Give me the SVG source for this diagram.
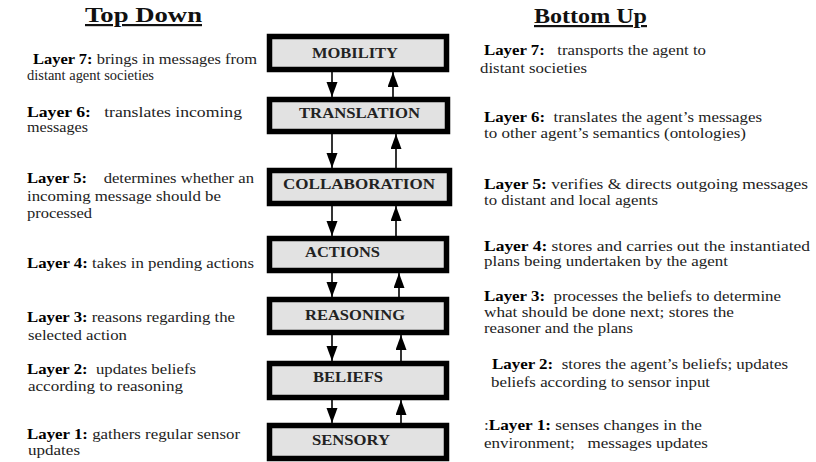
<svg xmlns="http://www.w3.org/2000/svg" width="816" height="462" viewBox="0 0 816 462" font-family="'Liberation Serif', 'Times New Roman', 'DejaVu Serif', serif">
<style>
.title { font-size: 22px; font-weight: bold; fill: #111; text-decoration: underline; }
.box { fill: #e2e2e2; stroke: #000; stroke-width: 5.5; }
.lbl { font-size: 14.5px; font-weight: bold; fill: #222; }
.desc { font-family: "Liberation Serif", "DejaVu Serif", serif; font-size: 14px; font-weight: normal; fill: #222; }
.desc .b { font-weight: bold; fill: #000; }
.conn { stroke: #000; stroke-width: 1.6; fill: none; marker-end: url(#ah); }
</style>
<defs>
<marker id="ah" markerUnits="userSpaceOnUse" markerWidth="16" markerHeight="12" refX="15" refY="5.5" orient="auto">
<path d="M0,0 L15,5.5 L0,11 Z" fill="#000"/>
</marker>
</defs>
<rect x="0" y="0" width="816" height="462" fill="#fff"/>

<g id="titles">
<text class="title" x="85" y="22" textLength="117" lengthAdjust="spacingAndGlyphs">Top Down</text>
<text class="title" x="534" y="23" textLength="113" lengthAdjust="spacingAndGlyphs">Bottom Up</text>
</g>

<g id="connectors">
<line class="conn" x1="332" y1="72" x2="332" y2="97"/>
<line class="conn" x1="332" y1="134" x2="332" y2="168"/>
<line class="conn" x1="332" y1="206" x2="332" y2="236"/>
<line class="conn" x1="332" y1="273" x2="332" y2="297"/>
<line class="conn" x1="332" y1="335" x2="332" y2="361"/>
<line class="conn" x1="332" y1="400" x2="332" y2="423"/>
<line class="conn" x1="393" y1="97" x2="393" y2="72"/>
<line class="conn" x1="396" y1="168" x2="396" y2="134"/>
<line class="conn" x1="396" y1="236" x2="396" y2="206"/>
<line class="conn" x1="399" y1="297" x2="399" y2="273"/>
<line class="conn" x1="401" y1="361" x2="401" y2="335"/>
<line class="conn" x1="401" y1="423" x2="401" y2="400"/>
</g>

<g id="mobility">
<rect class="box" x="269.5" y="36.5" width="177" height="33"/>
<text class="lbl" x="312" y="58" textLength="86" lengthAdjust="spacingAndGlyphs">MOBILITY</text>
</g>
<g id="translation">
<rect class="box" x="269.5" y="99.5" width="178" height="32"/>
<text class="lbl" x="299" y="118" textLength="121" lengthAdjust="spacingAndGlyphs">TRANSLATION</text>
</g>
<g id="collaboration">
<rect class="box" x="269.5" y="170.5" width="180" height="33"/>
<text class="lbl" x="283" y="189" textLength="152" lengthAdjust="spacingAndGlyphs">COLLABORATION</text>
</g>
<g id="actions">
<rect class="box" x="269.5" y="238.5" width="177" height="32"/>
<text class="lbl" x="305" y="257" textLength="75" lengthAdjust="spacingAndGlyphs">ACTIONS</text>
</g>
<g id="reasoning">
<rect class="box" x="269.5" y="299.5" width="177" height="33"/>
<text class="lbl" x="305" y="320" textLength="100" lengthAdjust="spacingAndGlyphs">REASONING</text>
</g>
<g id="beliefs">
<rect class="box" x="269.5" y="363.5" width="177" height="34"/>
<text class="lbl" x="313" y="382" textLength="70" lengthAdjust="spacingAndGlyphs">BELIEFS</text>
</g>
<g id="sensory">
<rect class="box" x="269.5" y="425.5" width="177" height="33"/>
<text class="lbl" x="312" y="445" textLength="78" lengthAdjust="spacingAndGlyphs">SENSORY</text>
</g>

<g id="top-down-text" class="desc">
<text x="33" y="64" textLength="224" lengthAdjust="spacingAndGlyphs"><tspan class="b">Layer 7:</tspan> brings in messages from</text>
<text x="27" y="80" textLength="127" lengthAdjust="spacingAndGlyphs">distant agent societies</text>
<text x="27" y="116.5" textLength="215" lengthAdjust="spacingAndGlyphs" xml:space="preserve"><tspan class="b">Layer 6:</tspan>   translates incoming</text>
<text x="27" y="132" textLength="61" lengthAdjust="spacingAndGlyphs">messages</text>
<text x="27" y="183" textLength="227" lengthAdjust="spacingAndGlyphs" xml:space="preserve"><tspan class="b">Layer 5:</tspan>    determines whether an</text>
<text x="27" y="200.5" textLength="194" lengthAdjust="spacingAndGlyphs">incoming message should be</text>
<text x="27" y="218" textLength="65" lengthAdjust="spacingAndGlyphs">processed</text>
<text x="27" y="268" textLength="227" lengthAdjust="spacingAndGlyphs"><tspan class="b">Layer 4:</tspan> takes in pending actions</text>
<text x="27" y="321.5" textLength="208" lengthAdjust="spacingAndGlyphs"><tspan class="b">Layer 3:</tspan> reasons regarding the</text>
<text x="28" y="340" textLength="99" lengthAdjust="spacingAndGlyphs">selected action</text>
<text x="27" y="373.5" textLength="169" lengthAdjust="spacingAndGlyphs" xml:space="preserve"><tspan class="b">Layer 2:</tspan>  updates beliefs</text>
<text x="28" y="391" textLength="155" lengthAdjust="spacingAndGlyphs">according to reasoning</text>
<text x="27" y="438.5" textLength="213" lengthAdjust="spacingAndGlyphs"><tspan class="b">Layer 1:</tspan> gathers regular sensor</text>
<text x="28" y="455" textLength="52" lengthAdjust="spacingAndGlyphs">updates</text>
</g>

<g id="bottom-up-text" class="desc">
<text x="484" y="55" textLength="222" lengthAdjust="spacingAndGlyphs" xml:space="preserve"><tspan class="b">Layer 7:</tspan>   transports the agent to</text>
<text x="480" y="72.5" textLength="107" lengthAdjust="spacingAndGlyphs">distant societies</text>
<text x="484" y="121.5" textLength="278" lengthAdjust="spacingAndGlyphs" xml:space="preserve"><tspan class="b">Layer 6:</tspan>  translates the agent’s messages</text>
<text x="484" y="137.5" textLength="262" lengthAdjust="spacingAndGlyphs">to other agent’s semantics (ontologies)</text>
<text x="484" y="189" textLength="324" lengthAdjust="spacingAndGlyphs"><tspan class="b">Layer 5:</tspan> verifies &amp; directs outgoing messages</text>
<text x="484" y="204.5" textLength="174" lengthAdjust="spacingAndGlyphs">to distant and local agents</text>
<text x="484" y="250.5" textLength="326" lengthAdjust="spacingAndGlyphs"><tspan class="b">Layer 4:</tspan> stores and carries out the instantiated</text>
<text x="484" y="266" textLength="244" lengthAdjust="spacingAndGlyphs">plans being undertaken by the agent</text>
<text x="484" y="300.5" textLength="297" lengthAdjust="spacingAndGlyphs" xml:space="preserve"><tspan class="b">Layer 3:</tspan>  processes the beliefs to determine</text>
<text x="484" y="316.5" textLength="250" lengthAdjust="spacingAndGlyphs">what should be done next; stores the</text>
<text x="484" y="333" textLength="149" lengthAdjust="spacingAndGlyphs">reasoner and the plans</text>
<text x="492" y="369" textLength="296" lengthAdjust="spacingAndGlyphs" xml:space="preserve"><tspan class="b">Layer 2:</tspan>  stores the agent’s beliefs; updates</text>
<text x="491" y="387" textLength="219" lengthAdjust="spacingAndGlyphs">beliefs according to sensor input</text>
<text x="484" y="430" textLength="218" lengthAdjust="spacingAndGlyphs">:<tspan class="b">Layer 1:</tspan> senses changes in the</text>
<text x="484" y="448" textLength="224" lengthAdjust="spacingAndGlyphs" xml:space="preserve">environment;   messages updates</text>
</g>
</svg>
